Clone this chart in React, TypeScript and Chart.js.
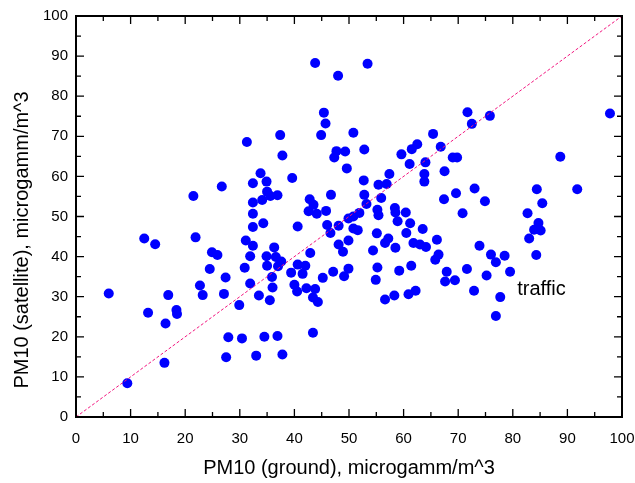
import React, { useEffect, useRef } from "react";
import { Chart, registerables } from "chart.js";

Chart.register(...registerables);

const groundPM10 = [
  6.0, 9.4, 12.5, 14.5, 13.2, 16.2, 16.4, 16.9, 18.4, 18.5,
  21.5, 21.9, 22.7, 23.2, 24.5, 24.9, 25.9, 26.7, 27.1, 27.4,
  27.5, 27.9, 29.9, 30.4, 30.9, 31.1, 31.3, 31.9, 31.9, 32.4,
  32.4, 32.4, 32.4, 32.4, 33.0, 33.5, 33.8, 34.1, 34.3, 34.5,
  34.9, 35.0, 35.6, 34.9, 35.0, 35.5, 35.9, 36.0, 36.3, 36.6,
  36.9, 36.9, 37.0, 37.4, 37.6, 37.8, 37.8, 39.4, 39.6, 40.0,
  40.5, 40.6, 40.6, 41.5, 42.0, 42.2, 42.6, 42.8, 42.9, 43.4,
  43.4, 43.5, 43.8, 43.8, 44.1, 44.3, 44.9, 45.2, 45.4, 45.7,
  45.8, 46.0, 46.6, 46.7, 47.1, 47.3, 47.7, 48.0, 48.1, 48.1,
  48.9, 49.1, 49.3, 49.6, 49.9, 49.9, 49.9, 50.8, 50.8, 50.8,
  51.6, 51.9, 52.7, 52.8, 52.8, 53.2, 53.4, 54.4, 54.9, 55.1,
  55.2, 55.2, 55.4, 55.4, 55.9, 56.6, 56.6, 56.9, 57.2, 57.4,
  58.5, 58.3, 58.4, 58.5, 58.9, 59.2, 59.6, 60.4, 60.5, 60.9,
  61.1, 61.2, 61.4, 61.5, 61.8, 62.2, 62.5, 63.0, 63.5, 63.8,
  63.8, 64.0, 64.1, 65.4, 65.8, 66.1, 66.4, 66.8, 67.4, 67.5,
  67.6, 67.9, 69.0, 69.8, 69.4, 69.6, 70.8, 71.6, 71.7, 72.5,
  72.9, 73.0, 73.9, 74.9, 75.2, 75.8, 76.0, 76.9, 76.9, 77.7,
  78.5, 79.5, 82.7, 83.0, 83.9, 84.3, 84.4, 84.7, 85.1, 85.4,
  88.7, 91.8, 97.8,
];

const satellitePM10 = [
  30.8, 8.4, 44.5, 43.1, 26.0, 13.5, 23.3, 30.4, 26.7, 25.7,
  55.1, 44.8, 32.8, 30.4, 36.9, 41.1, 40.4, 57.5, 30.7, 34.8,
  14.9, 19.9, 27.9, 19.6, 37.2, 44.0, 68.6, 40.1, 33.3, 47.4,
  50.7, 53.5, 42.7, 58.3, 15.3, 30.3, 60.8, 54.1, 48.3, 20.0,
  58.7, 56.2, 55.1, 40.1, 37.7, 29.1, 34.9, 32.3, 42.3, 39.9,
  55.3, 20.2, 37.6, 70.3, 38.8, 65.2, 15.6, 36.0, 59.6, 33.0,
  31.3, 47.5, 38.0, 35.7, 37.7, 32.1, 51.3, 54.3, 40.9, 29.8,
  21.0, 52.9, 31.9, 88.3, 50.7, 28.7, 70.3, 34.7, 75.9, 73.2,
  51.4, 47.9, 45.9, 55.4, 36.2, 64.7, 66.3, 85.1, 47.7, 43.0,
  41.2, 35.1, 66.2, 62.0, 49.5, 37.0, 44.0, 70.9, 50.0, 47.0,
  46.6, 50.9, 59.0, 66.7, 55.4, 53.1, 88.1, 41.5, 34.2, 45.8,
  37.3, 51.7, 50.3, 57.9, 54.6, 29.3, 43.4, 58.1, 44.5, 60.6,
  42.2, 30.3, 52.1, 51.0, 48.8, 36.5, 65.5, 51.0, 45.9, 30.6,
  63.1, 48.3, 37.7, 66.8, 43.4, 31.5, 68.0, 43.0, 46.9, 60.6,
  58.7, 63.5, 42.4, 70.6, 39.2, 44.2, 40.5, 67.4, 54.3, 61.3,
  33.8, 36.2, 64.7, 64.7, 34.1, 55.8, 50.8, 36.9, 76.0, 73.1,
  31.5, 57.0, 42.7, 53.8, 35.3, 75.1, 40.5, 38.6, 25.2, 29.9,
  40.2, 36.2, 50.8, 44.5, 46.7, 40.4, 56.8, 48.4, 46.5, 53.3,
  64.9, 56.8, 75.7,
];

const identityLine = [0, 100];
const axisMin = 0;
const axisMax = 100;
const xTitle = "PM10 (ground), microgamm/m^3";
const yTitle = "PM10 (satellite), microgamm/m^3";
const annotationText = "traffic";
const annotationPos = [80.8, 30.5];

const FONT = "'Liberation Sans', Arial, sans-serif";

const framePlugin = {
  id: "frameTicks",
  afterDraw(chart: any) {
    const ctx = chart.ctx;
    const xs = chart.scales.x;
    const ys = chart.scales.y;
    const L = Math.round(xs.getPixelForValue(axisMin));
    const R = Math.round(xs.getPixelForValue(axisMax));
    const T = Math.round(ys.getPixelForValue(axisMax));
    const B = Math.round(ys.getPixelForValue(axisMin));
    ctx.save();
    ctx.setLineDash([]);
    ctx.globalAlpha = 1;
    ctx.strokeStyle = "#000000";
    ctx.lineWidth = 2;
    ctx.beginPath();
    ctx.rect(L, T, R - L, B - T);
    ctx.stroke();
    ctx.lineWidth = 1.3;
    ctx.beginPath();
    for (let v = axisMin; v <= axisMax; v += 5) {
      const major = v % 10 === 0;
      const len = major ? 8 : 5;
      const px = xs.getPixelForValue(v);
      const py = ys.getPixelForValue(v);
      ctx.moveTo(px, B);
      ctx.lineTo(px, B - len);
      ctx.moveTo(px, T);
      ctx.lineTo(px, T + len);
      ctx.moveTo(L, py);
      ctx.lineTo(L + len, py);
      ctx.moveTo(R, py);
      ctx.lineTo(R - len, py);
    }
    ctx.stroke();

    ctx.fillStyle = "#000000";
    ctx.font = `20px ${FONT}`;
    ctx.textAlign = "left";
    ctx.textBaseline = "alphabetic";
    ctx.fillText(
      annotationText,
      xs.getPixelForValue(annotationPos[0]),
      ys.getPixelForValue(annotationPos[1])
    );

    ctx.textAlign = "center";
    ctx.textBaseline = "middle";
    ctx.fillText(xTitle, (L + R) / 2, 468);

    ctx.translate(22, 240);
    ctx.rotate(-Math.PI / 2);
    ctx.fillText(yTitle, 0, 0);

    ctx.restore();
  },
};

export default function App() {
  const ref = useRef<HTMLCanvasElement | null>(null);
  useEffect(() => {
    document.body.style.margin = "0";
    const canvas = ref.current!;
    const points = groundPM10.map((x, i) => ({ x, y: satellitePM10[i] }));
    const chart = new Chart(canvas, {
      type: "scatter",
      data: {
        datasets: [
          {
            type: "line",
            data: identityLine.map((v) => ({ x: v, y: v })),
            borderColor: "#F2157F",
            borderWidth: 1,
            borderDash: [3, 2],
            pointRadius: 0,
            fill: false,
            order: 0,
          } as any,
          {
            data: points,
            backgroundColor: "#0000FF",
            borderWidth: 0,
            pointRadius: 5,
            order: 1,
          },
        ],
      },
      options: {
        animation: false,
        responsive: false,
        devicePixelRatio: 1,
        layout: { padding: { left: 0, right: 13, top: 16, bottom: 0 } },
        plugins: { legend: { display: false }, tooltip: { enabled: false } },
        scales: {
          x: {
            type: "linear",
            min: axisMin,
            max: axisMax,
            ticks: {
              stepSize: 10,
              color: "#000",
              font: { family: FONT, size: 15 },
              padding: 13,
              maxRotation: 0,
            },
            grid: { display: false, drawTicks: false },
            border: { display: false },
            title: { display: false },
            afterFit: (s: any) => {
              s.height = 66;
              s.paddingLeft = 0;
              s.paddingRight = 0;
            },
          },
          y: {
            type: "linear",
            min: axisMin,
            max: axisMax,
            ticks: {
              stepSize: 10,
              color: "#000",
              font: { family: FONT, size: 15 },
              padding: 8,
            },
            grid: { display: false, drawTicks: false },
            border: { display: false },
            title: { display: false },
            afterFit: (s: any) => {
              s.width = 76;
              s.paddingTop = 0;
              s.paddingBottom = 0;
            },
          },
        },
      },
      plugins: [framePlugin],
    });
    return () => chart.destroy();
  }, []);
  return (
    <canvas
      ref={ref}
      width={635}
      height={483}
      style={{ display: "block", width: 635, height: 483 }}
    />
  );
}
